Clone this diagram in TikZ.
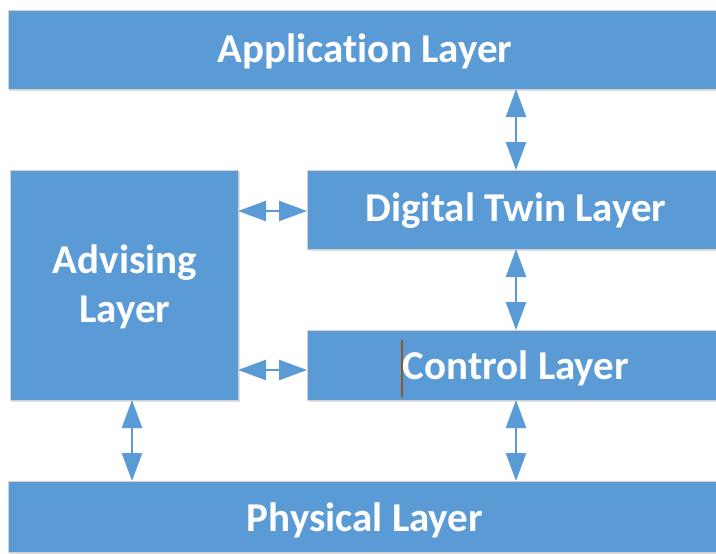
\documentclass[tikz,border=0pt]{standalone}
\usepackage{fontspec}
\setmainfont[Ligatures=NoCommon]{Carlito}
\usetikzlibrary{arrows.meta,shadows}
\definecolor{layerblue}{HTML}{5B9BD5}
\definecolor{cursorbrown}{HTML}{8B5A2B}
\begin{document}
\begin{tikzpicture}[x=1pt,y=-1pt,
  layer/.style={fill=layerblue, draw=black!18, line width=0.8pt,
    inner sep=0pt, outer sep=0pt, anchor=north west,
    drop shadow={opacity=0.25, shadow xshift=1.5pt, shadow yshift=-1.5pt}},
  lbl/.style={text=white, inner sep=0pt, anchor=base,
    font=\bfseries\fontsize{41}{49}\selectfont},
  biarrow/.style={draw=layerblue, line width=2.5pt,
    {Triangle[length=28pt,width=20pt]}-{Triangle[length=28pt,width=20pt]}}]
  \useasboundingbox (0,0) rectangle (716,554);

  % layer boxes
  \node[layer, minimum width=716pt, minimum height=79pt] (app) at (8,10) {};
  \node[layer, minimum width=420pt, minimum height=79pt] (dt) at (307,170) {};
  \node[layer, minimum width=228pt, minimum height=230pt] (adv) at (10,170) {};
  \node[layer, minimum width=420pt, minimum height=70pt] (ctl) at (307,330) {};
  \node[layer, minimum width=716pt, minimum height=71pt] (phy) at (8,481) {};

  % labels (placed on their baselines)
  \node[lbl] (applbl) at (365,62) {Application Layer};
  \node[lbl] (dtlbl) at (516,221) {Digital Twin Layer};
  \node[lbl] (advlbl1) at (125,273) {Advising};
  \node[lbl] (advlbl2) at (125,322) {Layer};
  \node[lbl] (ctllbl) at (516,379) {Control Layer};
  \node[lbl] (phylbl) at (365,531) {Physical Layer};

  % text cursor
  \draw[cursorbrown, line width=2pt] (402,340) -- (402,397);

  % connector columns and rows
  \coordinate (colR) at (516,0);
  \coordinate (colL) at (132,0);
  \coordinate (rowT) at (0,211);
  \coordinate (rowB) at (0,370);

  \draw[biarrow] (app.south -| colR) -- (dt.north -| colR);
  \draw[biarrow] (dt.south -| colR) -- (ctl.north -| colR);
  \draw[biarrow] (ctl.south -| colR) -- (phy.north -| colR);
  \draw[biarrow] (adv.south -| colL) -- (phy.north -| colL);
  \draw[biarrow] (adv.east |- rowT) -- (dt.west |- rowT);
  \draw[biarrow] (adv.east |- rowB) -- (ctl.west |- rowB);
\end{tikzpicture}
\end{document}
